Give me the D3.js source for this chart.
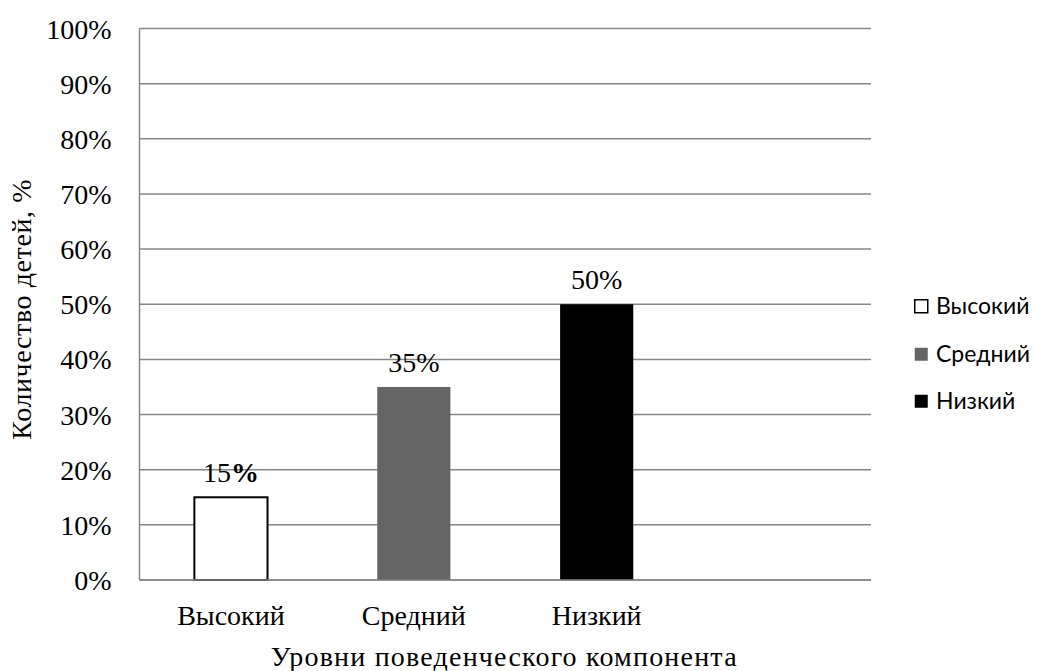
<!DOCTYPE html>
<html>
<head>
<meta charset="utf-8">
<script src="https://cdn.jsdelivr.net/npm/d3@7/dist/d3.min.js"></script>
<style>
  html, body { margin: 0; padding: 0; background: #fff; }
  svg { display: block; }
</style>
</head>
<body>
<svg id="chart" width="1037" height="671"></svg>
<script>
// Levels of the behavioural component and share of children at each level (%)
const categories = ["Высокий", "Средний", "Низкий"];
const values = [15, 35, 50];
const fills = ["#ffffff", "#656565", "#000000"];
const yTicks = [0, 10, 20, 30, 40, 50, 60, 70, 80, 90, 100];
const yTitle = "Количество детей, %";
const xTitle = "Уровни поведенческого компонента";

const svg = d3.select("#chart");
const W = 1037, H = 671;
const margin = { left: 139.5, right: W - 871, top: 28.5, bottom: H - 580 };
const x0 = margin.left, x1 = W - margin.right;
const y0 = H - margin.bottom, y1 = margin.top;

const serif = "'Liberation Serif', 'Times New Roman', serif";
const sans = "Lato, 'Open Sans', sans-serif";
const fs = 28;

// four category slots on the axis; the last one stays empty
const slots = categories.concat([" "]);
const x = d3.scaleBand().domain(slots).range([x0, x1]).paddingInner(0).paddingOuter(0);
const y = d3.scaleLinear().domain([0, 100]).range([y0, y1]);
const barW = x.bandwidth() * 0.4;

// horizontal gridlines
svg.append("g")
  .selectAll("line")
  .data(yTicks)
  .join("line")
  .attr("x1", x0).attr("x2", x1)
  .attr("y1", d => y(d)).attr("y2", d => y(d))
  .attr("stroke", "#868686").attr("stroke-width", 1.5);

// left axis line
svg.append("line")
  .attr("x1", x0).attr("x2", x0).attr("y1", y1).attr("y2", y0)
  .attr("stroke", "#868686").attr("stroke-width", 1.5);

// y tick labels
const yAxis = d3.axisLeft(y).tickValues(yTicks).tickFormat(d => d + "%").tickSize(0).tickPadding(28);
const gy = svg.append("g").attr("transform", `translate(${x0},0)`).call(yAxis);
gy.select(".domain").remove();
gy.selectAll("text")
  .attr("font-family", serif).attr("font-size", fs).attr("fill", "#000")
  .attr("dy", "0.34em");

// bars
svg.append("g")
  .selectAll("rect")
  .data(values)
  .join("rect")
  .attr("x", (d, i) => x(categories[i]) + (x.bandwidth() - barW) / 2)
  .attr("width", barW)
  .attr("y", d => y(d))
  .attr("height", d => y(0) - y(d))
  .attr("fill", (d, i) => fills[i])
  .attr("stroke", (d, i) => i === 0 ? "#000" : "none")
  .attr("stroke-width", 2);

// bottom axis line (drawn over bars)
svg.append("line")
  .attr("x1", x0).attr("x2", x1).attr("y1", y0).attr("y2", y0)
  .attr("stroke", "#868686").attr("stroke-width", 1.5);

// value labels
const vl = svg.append("g")
  .selectAll("text")
  .data(values)
  .join("text")
  .attr("x", (d, i) => x(categories[i]) + x.bandwidth() / 2)
  .attr("y", d => y(d) - 15)
  .attr("text-anchor", "middle")
  .attr("font-family", serif).attr("font-size", fs).attr("fill", "#000");
vl.append("tspan").text(d => d);
vl.append("tspan").attr("font-weight", (d, i) => i === 0 ? "bold" : "normal").text("%");

// category labels
const xAxis = d3.axisBottom(x).tickSize(0).tickPadding(0);
const gx = svg.append("g").attr("transform", `translate(0,${y0})`).call(xAxis);
gx.select(".domain").remove();
gx.selectAll("text")
  .attr("font-family", serif).attr("font-size", fs).attr("fill", "#000")
  .attr("dy", 0).attr("y", 45);

// axis titles
svg.append("text")
  .attr("transform", `translate(31,${(y0 + y1) / 2 + 5}) rotate(-90)`)
  .attr("text-anchor", "middle")
  .attr("font-family", serif).attr("font-size", fs).attr("fill", "#000")
  .attr("letter-spacing", 0.6)
  .text(yTitle);

svg.append("text")
  .attr("x", (x0 + x1) / 2 - 1).attr("y", 666)
  .attr("text-anchor", "middle")
  .attr("font-family", serif).attr("font-size", fs).attr("fill", "#000")
  .attr("letter-spacing", 1.2)
  .text(xTitle);

// legend
const leg = svg.append("g").attr("transform", "translate(914,0)");
const legY = [306, 354, 401];
const li = leg.selectAll("g").data(categories).join("g")
  .attr("transform", (d, i) => `translate(0,${legY[i]})`);
li.append("rect")
  .attr("x", 0.75).attr("y", -6.25).attr("width", 13).attr("height", 13)
  .attr("fill", (d, i) => fills[i])
  .attr("stroke", (d, i) => i === 0 ? "#000" : "none")
  .attr("stroke-width", 1.5);
li.append("text")
  .attr("x", 22).attr("dy", "0.35em")
  .attr("font-family", sans).attr("font-size", 23).attr("fill", "#000")
  .text(d => d);
</script>
</body>
</html>
